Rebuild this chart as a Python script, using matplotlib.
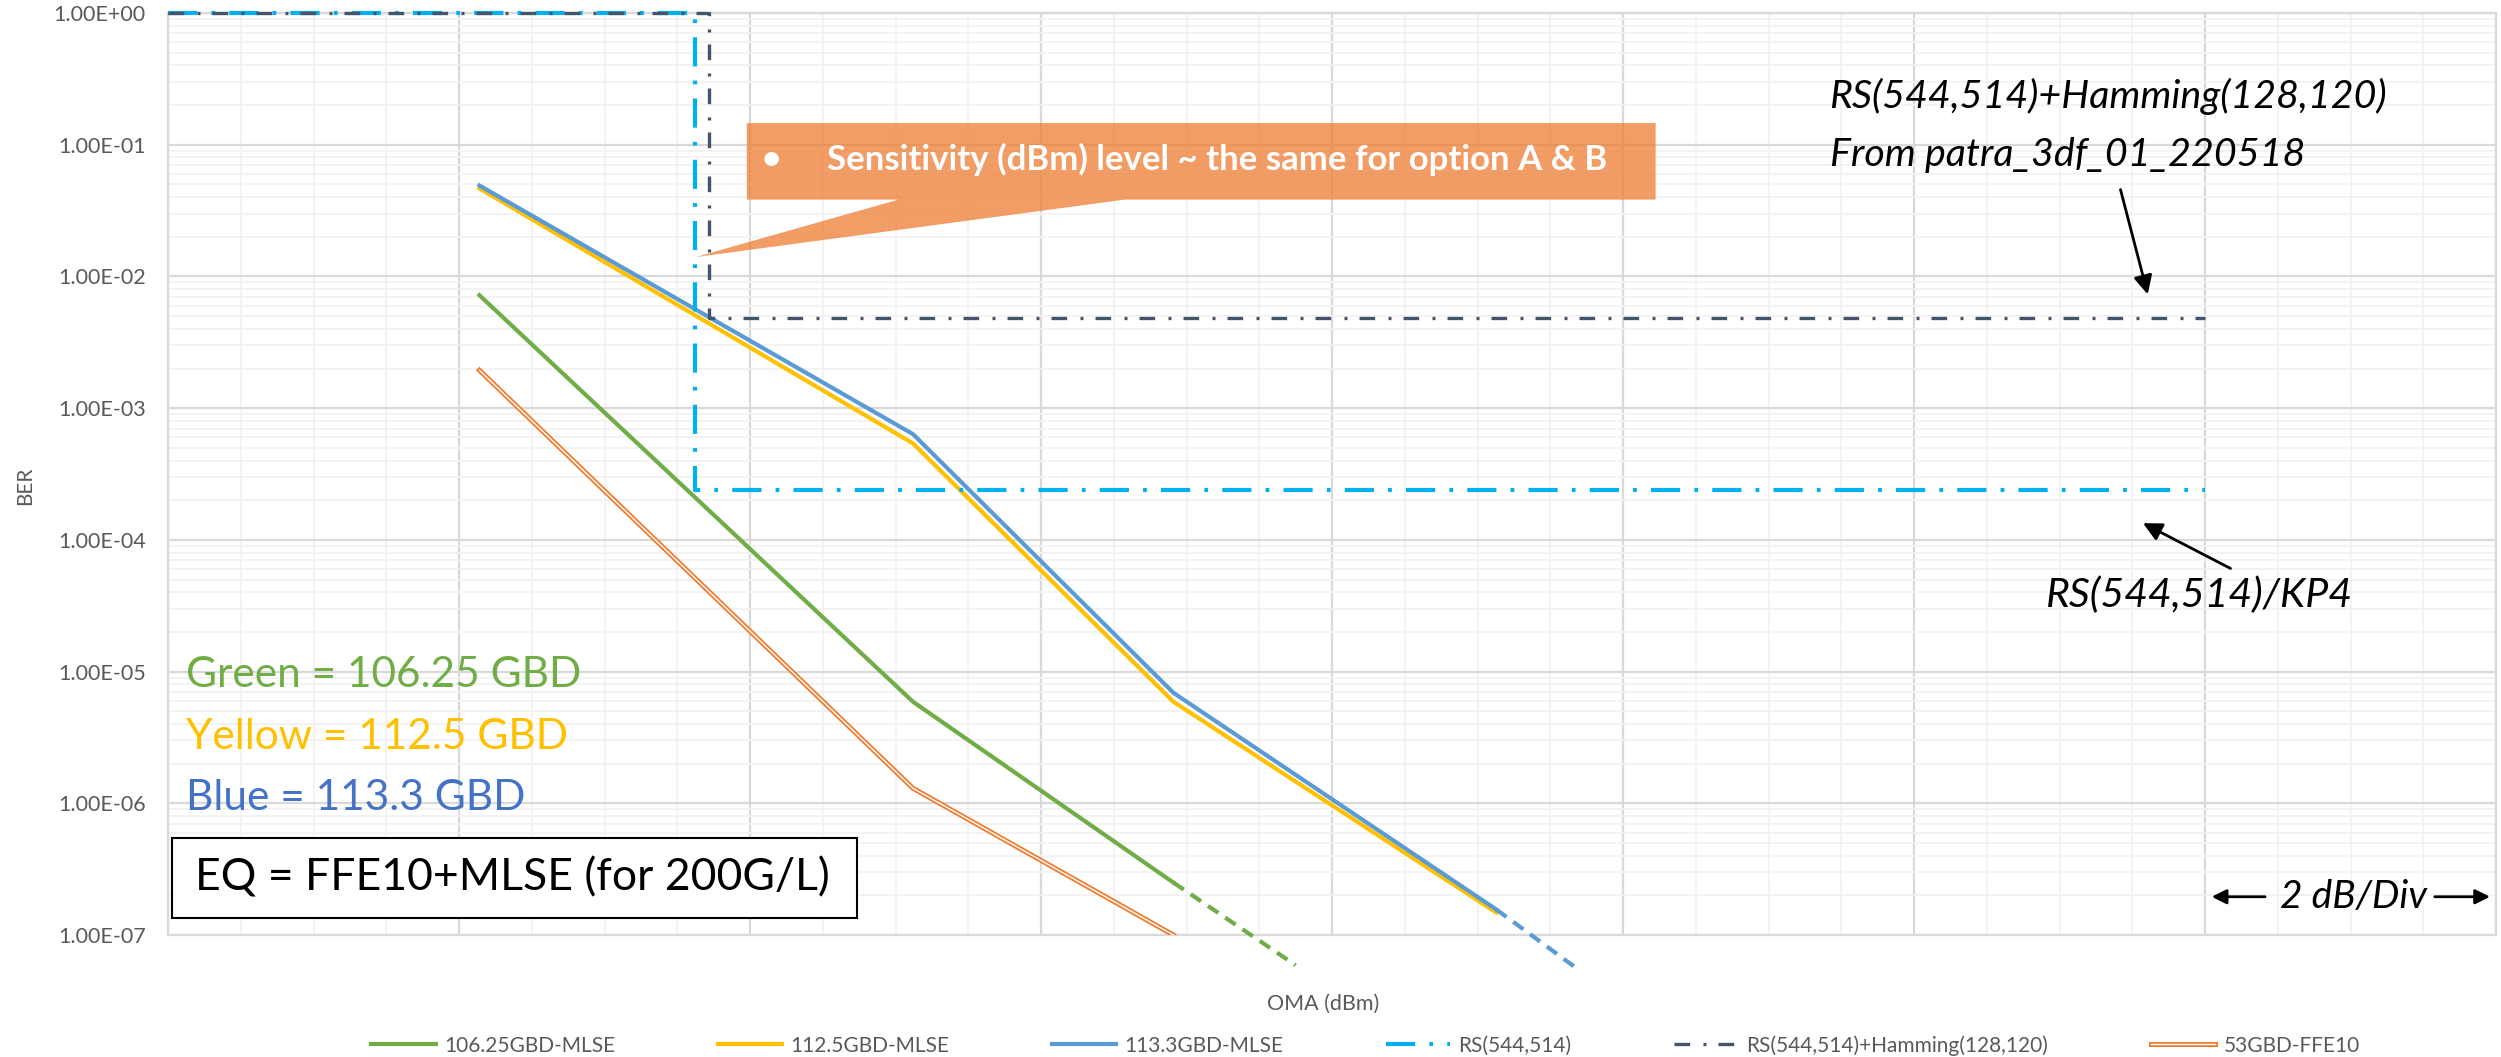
import numpy as np
import matplotlib.pyplot as plt
import matplotlib.patheffects as pe
from matplotlib.patches import Rectangle, Polygon
from matplotlib.ticker import FixedLocator, FuncFormatter, NullFormatter, LogLocator

plt.rcParams['font.family'] = ['Lato', 'DejaVu Sans']

# OMA axis: -14 .. 2 dBm, 2 dB per division (no labels shown on the chart)
oma_pts = [-11.86, -8.88, -7.09, -4.87]

ber_10625 = [7.2e-3, 5.9e-6, 2.5e-7]
ber_1125 = [4.66e-2, 5.4e-4, 5.9e-6, 1.48e-7]
ber_1133 = [4.9e-2, 6.35e-4, 6.9e-6, 1.56e-7]
ber_53 = [1.94e-3, 1.3e-6, 1.0e-7]

# dashed extrapolation tails
ext_10625_x = [-7.09, -6.25]
ext_10625_y = [2.5e-7, 5.9e-8]
ext_1133_x = [-4.87, -4.32]
ext_1133_y = [1.56e-7, 5.6e-8]

# FEC threshold lines
kp4_x = [-14, -10.38, -10.38, 0]
kp4_y = [1, 1, 2.4e-4, 2.4e-4]
ham_x = [-14, -10.28, -10.28, 0]
ham_y = [1, 1, 4.85e-3, 4.85e-3]

c_green = '#70AD47'
c_yellow = '#FFC000'
c_blue = '#5B9BD5'
c_cyan = '#00B0F0'
c_navy = '#44546A'
c_orange = '#ED7D31'
c_gray = '#595959'

fig = plt.figure(figsize=(25.01, 10.57), dpi=100)
ax = fig.add_axes([0.0672, 0.1154, 0.9308, 0.8723])

ax.plot(oma_pts[:3], ber_10625, color=c_green, lw=3, label='106.25GBD-MLSE', zorder=3)
ax.plot(oma_pts, ber_1125, color=c_yellow, lw=3, label='112.5GBD-MLSE', zorder=3)
ax.plot(oma_pts, ber_1133, color=c_blue, lw=3, label='113.3GBD-MLSE', zorder=3)
ax.plot(kp4_x, kp4_y, color=c_cyan, lw=3, ls=(0, (7, 3.4, 0.9, 3.4)),
        label='RS(544,514)', zorder=3, clip_on=False)
ax.plot(ham_x, ham_y, color=c_navy, lw=2.4, ls=(0, (4.7, 4, 0.9, 3.6)),
        label='RS(544,514)+Hamming(128,120)', zorder=3, clip_on=False)
ax.plot(oma_pts[:3], ber_53, color='white', lw=1.0, label='53GBD-FFE10', zorder=3,
        path_effects=[pe.Stroke(linewidth=3.6, foreground=c_orange), pe.Normal()])

ax.plot(ext_10625_x, ext_10625_y, color=c_green, lw=3, ls=(0, (3, 2)), clip_on=False, zorder=3)
ax.plot(ext_1133_x, ext_1133_y, color=c_blue, lw=3, ls=(0, (3, 2)), clip_on=False, zorder=3)

ax.set_yscale('log')
ax.set_ylim(1e-7, 1)
ax.set_xlim(-14, 2)
ax.xaxis.set_major_locator(FixedLocator(np.arange(-14, 2.1, 2)))
ax.xaxis.set_minor_locator(FixedLocator(np.arange(-14, 2.1, 0.5)))
ax.xaxis.set_major_formatter(NullFormatter())
ax.yaxis.set_major_locator(LogLocator(base=10, numticks=20))
ax.yaxis.set_minor_locator(LogLocator(base=10, subs=np.arange(2, 10), numticks=20))
ax.yaxis.set_major_formatter(FuncFormatter(lambda v, p: f'{v:.2E}'))
ax.yaxis.set_minor_formatter(NullFormatter())
ax.tick_params(which='both', length=0)
ax.tick_params(axis='y', labelsize=15.5, labelcolor=c_gray, pad=16)
ax.grid(which='major', color='#D9D9D9', lw=1.6, zorder=0)
ax.grid(which='minor', color='#F2F2F2', lw=1.3, zorder=0)
ax.set_axisbelow(True)
for s in ax.spines.values():
    s.set_color('#D9D9D9')
    s.set_linewidth(1.6)

ax.text(-0.0614, 0.487, 'BER', transform=ax.transAxes, rotation=90,
        ha='center', va='center', fontsize=15, color=c_gray)
ax.text(0.496, -0.075, 'OMA (dBm)', transform=ax.transAxes,
        ha='center', va='center', fontsize=15.5, color=c_gray)

# callout
callout = Polygon([(0.2486, 0.8806), (0.639, 0.8806), (0.639, 0.7976), (0.411, 0.7976),
                   (0.2267, 0.7353), (0.3137, 0.7976), (0.2486, 0.7976)],
                  closed=True, transform=ax.transAxes, facecolor=c_orange, alpha=0.75,
                  edgecolor='none', zorder=5)
ax.add_patch(callout)
ax.text(0.259, 0.841, '\u2022', transform=ax.transAxes, ha='center', va='center',
        fontsize=24, color='white', fontweight='bold', zorder=6)
ax.text(0.283, 0.841, 'Sensitivity (dBm) level ~ the same for option A & B',
        transform=ax.transAxes, ha='left', va='center', fontsize=25, color='white',
        fontweight='bold', zorder=6)

# series description
ax.text(0.0075, 0.282, 'Green = 106.25 GBD', transform=ax.transAxes, ha='left', va='center',
        fontsize=30.5, color=c_green, zorder=6)
ax.text(0.0075, 0.2145, 'Yellow = 112.5 GBD', transform=ax.transAxes, ha='left', va='center',
        fontsize=30.5, color=c_yellow, zorder=6)
ax.text(0.0075, 0.149, 'Blue = 113.3 GBD', transform=ax.transAxes, ha='left', va='center',
        fontsize=30.5, color='#4472C4', zorder=6)

ax.add_patch(Rectangle((0.0015, 0.019), 0.2944, 0.0865, transform=ax.transAxes,
                       facecolor='white', edgecolor='black', lw=1.5, zorder=6))
ax.text(0.148, 0.0623, 'EQ = FFE10+MLSE (for 200G/L)', transform=ax.transAxes,
        ha='center', va='center', fontsize=32, color='black', zorder=7)

# FEC annotations
ax.text(0.7137, 0.910, 'RS(544,514)+Hamming(128,120)', transform=ax.transAxes,
        ha='left', va='center', fontsize=28.4, style='italic', color='black')
ax.text(0.7137, 0.846, 'From patra_3df_01_220518', transform=ax.transAxes,
        ha='left', va='center', fontsize=28.4, style='italic', color='black')
ax.annotate('', xy=(0.8507, 0.692), xytext=(0.8384, 0.8114), xycoords='axes fraction',
            arrowprops=dict(arrowstyle='-|>', color='black', lw=2, mutation_scale=28))
ax.text(0.8068, 0.3685, 'RS(544,514)/KP4', transform=ax.transAxes,
        ha='left', va='center', fontsize=29.5, style='italic', color='black')
ax.annotate('', xy=(0.8473, 0.4481), xytext=(0.887, 0.3962), xycoords='axes fraction',
            arrowprops=dict(arrowstyle='-|>', color='black', lw=2, mutation_scale=28))

ax.text(0.939, 0.0415, '2 dB/Div', transform=ax.transAxes, ha='center', va='center',
        fontsize=28, style='italic', color='black')
ax.annotate('', xy=(0.8767, 0.0415), xytext=(0.902, 0.0415), xycoords='axes fraction',
            arrowprops=dict(arrowstyle='-|>', color='black', lw=2, mutation_scale=22))
ax.annotate('', xy=(0.9986, 0.0415), xytext=(0.9725, 0.0415), xycoords='axes fraction',
            arrowprops=dict(arrowstyle='-|>', color='black', lw=2, mutation_scale=22))

fig.legend(loc='center', bbox_to_anchor=(0.546, 0.011), ncol=6, frameon=False,
           fontsize=15, labelcolor=c_gray, handlelength=3.1, handletextpad=0.4,
           columnspacing=4.9)

fig.savefig('out.png', dpi=100)
